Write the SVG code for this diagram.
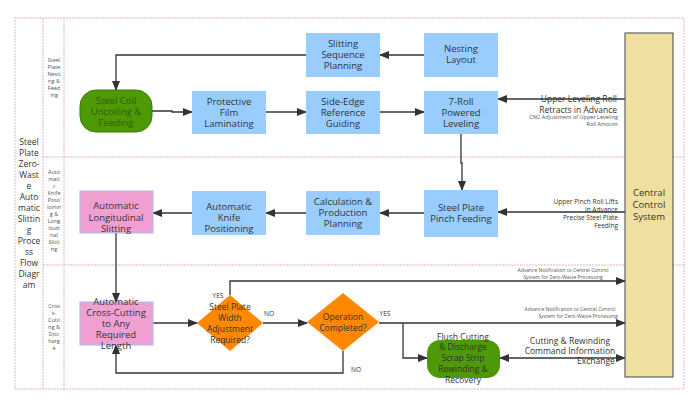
<svg xmlns="http://www.w3.org/2000/svg" width="700" height="406" viewBox="0 0 700 406">
<style>
text{font-family:"Open Sans","DejaVu Sans",sans-serif;fill:#333;text-anchor:middle}
.b{fill:#99ccff}
.n{font-size:9.5px}
.s{font-size:5.5px;fill:#555}
.l{fill:none;stroke:#333;stroke-width:1.3}
.lane{fill:none;stroke:#e6a0a8;stroke-width:0.8;stroke-dasharray:2 1}
</style>
<defs>
<marker id="a" viewBox="0 0 10 10" refX="9" refY="5" markerWidth="8" markerHeight="8" orient="auto-start-reverse"><path d="M0,1 L10,5 L0,9 Z" fill="#333"/></marker>
</defs>
<g id="lanes">
<rect class="lane" x="15" y="18" width="669" height="371"/>
<line class="lane" x1="43" y1="18" x2="43" y2="389"/>
<line class="lane" x1="64" y1="18" x2="64" y2="389"/>
<line class="lane" x1="43" y1="157" x2="684" y2="157"/>
<line class="lane" x1="43" y1="265" x2="684" y2="265"/>
<text font-size="8.5" x="29"><tspan x="29" y="145">Steel</tspan><tspan x="29" y="156">Plate</tspan><tspan x="29" y="167">Zero-</tspan><tspan x="29" y="178">Wast</tspan><tspan x="29" y="189">e</tspan><tspan x="29" y="200">Auto</tspan><tspan x="29" y="211">matic</tspan><tspan x="29" y="222">Slittin</tspan><tspan x="29" y="233">g</tspan><tspan x="29" y="244">Proce</tspan><tspan x="29" y="255">ss</tspan><tspan x="29" y="266">Flow</tspan><tspan x="29" y="277">Diagr</tspan><tspan x="29" y="288">am</tspan></text>
<text class="s"><tspan x="54" y="62">Steel</tspan><tspan x="54" y="69">Plate</tspan><tspan x="54" y="76">Nesti</tspan><tspan x="54" y="83">ng &amp;</tspan><tspan x="54" y="90">Feed</tspan><tspan x="54" y="97">ing</tspan></text>
<text class="s"><tspan x="54" y="174">Auto</tspan><tspan x="54" y="181">mati</tspan><tspan x="54" y="188">c</tspan><tspan x="54" y="195">Knife</tspan><tspan x="54" y="202">Posit</tspan><tspan x="54" y="209">ioinin</tspan><tspan x="54" y="216">g &amp;</tspan><tspan x="54" y="223">Long</tspan><tspan x="54" y="230">itudi</tspan><tspan x="54" y="237">nal</tspan><tspan x="54" y="244">Slitti</tspan><tspan x="54" y="251">ng</tspan></text>
<text class="s"><tspan x="54" y="308">Cros</tspan><tspan x="54" y="315">s-</tspan><tspan x="54" y="322">Cutti</tspan><tspan x="54" y="329">ng &amp;</tspan><tspan x="54" y="336">Disc</tspan><tspan x="54" y="343">harg</tspan><tspan x="54" y="350">e</tspan></text>
</g>
<g id="connectors">
<line class="l" x1="424" y1="55" x2="380" y2="55" marker-end="url(#a)"/>
<polyline class="l" points="306,55 116,55 116,90" marker-end="url(#a)"/>
<polyline class="l" points="152,111 172,111 172,112 192,112" marker-end="url(#a)"/>
<line class="l" x1="266" y1="112" x2="306" y2="112" marker-end="url(#a)"/>
<line class="l" x1="380" y1="112" x2="424" y2="112" marker-end="url(#a)"/>
<polyline class="l" points="461,134 461,163 462,163 462,190" marker-end="url(#a)"/>
<line class="l" x1="625" y1="99" x2="498" y2="99" marker-end="url(#a)"/>
<line class="l" x1="625" y1="212" x2="498" y2="212" marker-end="url(#a)"/>
<line class="l" x1="424" y1="213" x2="380" y2="213" marker-end="url(#a)"/>
<line class="l" x1="306" y1="213" x2="266" y2="213" marker-end="url(#a)"/>
<line class="l" x1="192" y1="213" x2="153" y2="213" marker-end="url(#a)"/>
<line class="l" x1="116" y1="233" x2="116" y2="302" marker-end="url(#a)"/>
<line class="l" x1="153" y1="323" x2="197" y2="323" marker-end="url(#a)"/>
<line class="l" x1="263" y1="323" x2="307" y2="323" marker-end="url(#a)"/>
<polyline class="l" points="230,295 230,281 625,281" marker-end="url(#a)"/>
<polyline class="l" points="379,323 625,323" marker-end="url(#a)"/>
<polyline class="l" points="403,323 403,358 427,358" marker-end="url(#a)"/>
<line class="l" x1="500" y1="358" x2="625" y2="358" marker-start="url(#a)" marker-end="url(#a)"/>
<polyline class="l" points="343,351 343,373 116,373 116,345" marker-end="url(#a)"/>
<text font-size="6.5" x="218" y="298">YES</text>
<text font-size="6.5" x="269" y="316">NO</text>
<text font-size="6.5" x="385" y="316">YES</text>
<text font-size="6.5" x="356" y="372">NO</text>
<text font-size="8.5" style="text-anchor:end"><tspan x="617" y="102">Upper Leveling Roll</tspan><tspan x="617" y="113">Retracts in Advance</tspan></text>
<text class="s" style="text-anchor:end"><tspan x="618" y="119">CNC Adjustment of Upper Leveling</tspan><tspan x="618" y="126">Roll Amount</tspan></text>
<text style="text-anchor:end" font-size="6.5" fill="#444"><tspan x="618" y="204">Upper Pinch Roll Lifts</tspan><tspan x="618" y="212">in Advance</tspan><tspan x="618" y="220">Precise Steel Plate</tspan><tspan x="618" y="228">Feeding</tspan></text>
<text class="s" font-size="5"><tspan x="563" y="272" font-size="5">Advance Notification to Central Control</tspan><tspan x="563" y="279" font-size="5">System for Zero-Waste Processing</tspan></text>
<text class="s"><tspan x="570" y="311" font-size="5">Advance Notification to Central Control</tspan><tspan x="578" y="318" font-size="5">System for Zero-Waste Processing</tspan></text>
<text font-size="8.5" fill="#444"><tspan x="570" y="344">Cutting &amp; Rewinding</tspan><tspan x="570" y="354">Command Information</tspan><tspan x="596" y="364">Exchange</tspan></text>
</g>
<g id="central"><rect x="625" y="33" width="48" height="344" fill="#f0e0a0" stroke="#444" stroke-width="1"/><text font-size="9.5"><tspan x="649" y="196">Central</tspan><tspan x="649" y="208">Control</tspan><tspan x="649" y="220">System</tspan></text></g>
<g id="nesting"><rect class="b" x="424" y="33" width="74" height="44"/><text class="n"><tspan x="461" y="52">Nesting</tspan><tspan x="461" y="63">Layout</tspan></text></g>
<g id="slitseq"><rect class="b" x="306" y="33" width="74" height="44"/><text class="n"><tspan x="343" y="47">Slitting</tspan><tspan x="343" y="58">Sequence</tspan><tspan x="343" y="69">Planning</tspan></text></g>
<g id="coil"><rect x="80" y="90" width="72" height="42" rx="16" fill="#4e9a06" stroke="#3c7a04"/><text class="n" style="fill:#2d5a00"><tspan x="116" y="104">Steel Coil</tspan><tspan x="116" y="115">Uncoiling &amp;</tspan><tspan x="116" y="126">Feeding</tspan></text></g>
<g id="film"><rect class="b" x="192" y="91" width="74" height="43"/><text class="n"><tspan x="229" y="105">Protective</tspan><tspan x="229" y="116">Film</tspan><tspan x="229" y="127">Laminating</tspan></text></g>
<g id="guide"><rect class="b" x="306" y="91" width="74" height="43"/><text class="n"><tspan x="343" y="105">Side-Edge</tspan><tspan x="343" y="116">Reference</tspan><tspan x="343" y="127">Guiding</tspan></text></g>
<g id="level"><rect class="b" x="424" y="91" width="74" height="43"/><text class="n"><tspan x="461" y="105">7-Roll</tspan><tspan x="461" y="116">Powered</tspan><tspan x="461" y="127">Leveling</tspan></text></g>
<g id="pinch"><rect class="b" x="424" y="190" width="74" height="47"/><text class="n"><tspan x="461" y="211">Steel Plate</tspan><tspan x="461" y="222">Pinch Feeding</tspan></text></g>
<g id="calc"><rect class="b" x="306" y="191" width="74" height="44"/><text class="n"><tspan x="343" y="205">Calculation &amp;</tspan><tspan x="343" y="216">Production</tspan><tspan x="343" y="227">Planning</tspan></text></g>
<g id="knife"><rect class="b" x="192" y="191" width="74" height="44"/><text class="n"><tspan x="229" y="210">Automatic</tspan><tspan x="229" y="221">Knife</tspan><tspan x="229" y="232">Positioning</tspan></text></g>
<g id="longi"><rect x="80" y="191" width="73" height="42" fill="#f0a0d0" stroke="#aab8f0"/><text class="n"><tspan x="116" y="209">Automatic</tspan><tspan x="116" y="221">Longitudinal</tspan><tspan x="116" y="232">Slitting</tspan></text></g>
<g id="cross"><rect x="80" y="302" width="73" height="43" fill="#f0a0d0" stroke="#aab8f0"/><text class="n"><tspan x="116" y="305">Automatic</tspan><tspan x="116" y="316">Cross-Cutting</tspan><tspan x="116" y="327">to Any</tspan><tspan x="116" y="338">Required</tspan><tspan x="116" y="349">Length</tspan></text></g>
<g id="d1"><polygon points="230,295 263,323 230,351 197,323" fill="#ff8800"/><text font-size="8.5"><tspan x="230" y="310">Steel Plate</tspan><tspan x="230" y="321">Width</tspan><tspan x="230" y="332">Adjustment</tspan><tspan x="230" y="343">Required?</tspan></text></g>
<g id="d2"><polygon points="343,293 379,322 343,351 307,322" fill="#ff8800"/><text font-size="8.5"><tspan x="343" y="320">Operation</tspan><tspan x="343" y="331">Completed?</tspan></text></g>
<g id="flush"><rect x="427" y="340" width="73" height="38" rx="13" fill="#4e9a06"/><text font-size="8.5"><tspan x="463" y="340">Flush Cutting</tspan><tspan x="463" y="350">&amp; Discharge</tspan><tspan x="463" y="361">Scrap Strip</tspan><tspan x="463" y="372">Rewinding &amp;</tspan><tspan x="463" y="383">Recovery</tspan></text></g>
</svg>
